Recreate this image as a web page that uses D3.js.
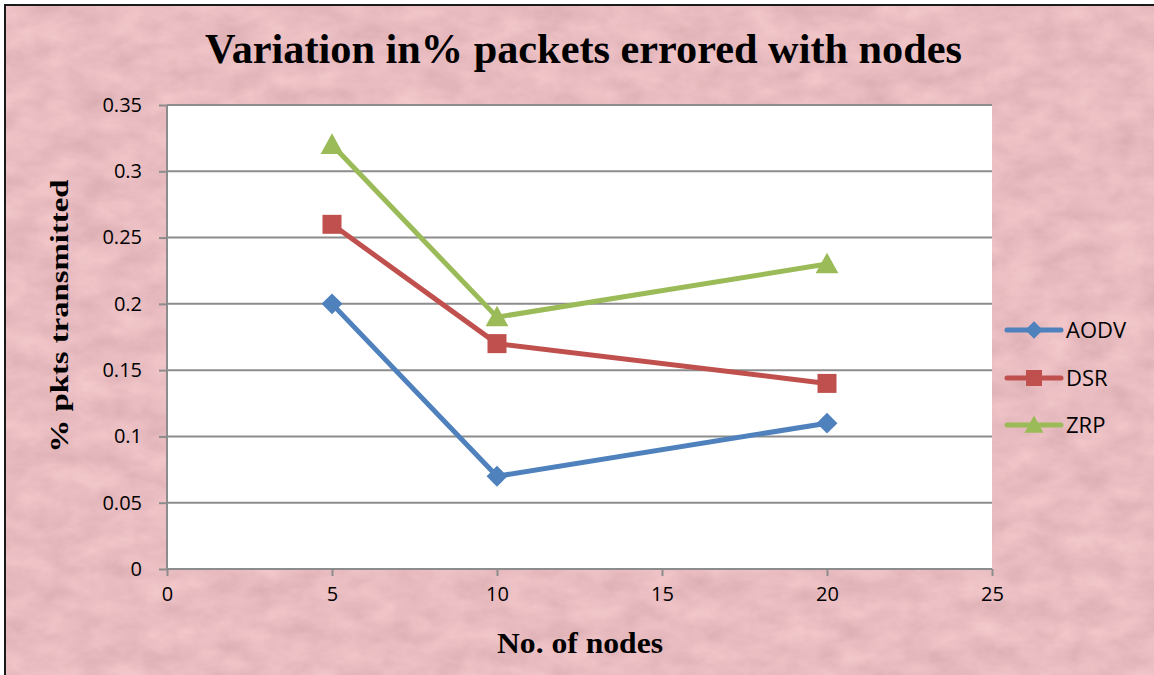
<!DOCTYPE html>
<html>
<head>
<meta charset="utf-8">
<script src="https://cdn.jsdelivr.net/npm/d3@7"></script>
<style>
  html, body { margin: 0; padding: 0; background: #ffffff; }
  svg { display: block; }
</style>
</head>
<body>
<svg id="chart" width="1154" height="675"></svg>
<script>
// Node counts on the x axis
const nodes = [5, 10, 20];
// Percentage of packets errored per protocol
const aodv = [0.2, 0.07, 0.11];
const dsr = [0.26, 0.17, 0.14];
const zrp = [0.32, 0.19, 0.23];
const seriesNames = ["AODV", "DSR", "ZRP"];
const xTicks = [0, 5, 10, 15, 20, 25];
const yTicks = [0, 0.05, 0.1, 0.15, 0.2, 0.25, 0.3, 0.35];

const series = [
  { name: seriesNames[0], values: aodv, color: "#4f81bd", shape: "diamond" },
  { name: seriesNames[1], values: dsr, color: "#c0504d", shape: "square" },
  { name: seriesNames[2], values: zrp, color: "#9bbb59", shape: "triangle" }
];

const W = 1154, H = 675;
const svg = d3.select("#chart");
const defs = svg.append("defs");

// Mottled pink paper texture for the chart background
const f = defs.append("filter").attr("id", "paper")
  .attr("color-interpolation-filters", "sRGB")
  .attr("x", 0).attr("y", 0).attr("width", "100%").attr("height", "100%");
f.append("feTurbulence").attr("type", "fractalNoise")
  .attr("baseFrequency", "0.028 0.045").attr("numOctaves", 4).attr("seed", 11).attr("result", "noise");
f.append("feColorMatrix").attr("in", "noise").attr("type", "matrix")
  .attr("values", "0.12 0 0 0 0.85  0.13 0 0 0 0.672  0.12 0 0 0 0.692  0 0 0 0 1")
  .attr("result", "tint");
f.append("feComposite").attr("in", "tint").attr("in2", "SourceGraphic").attr("operator", "in");

svg.append("rect").attr("x", 0).attr("y", 0).attr("width", W).attr("height", H).attr("fill", "#ffffff");
svg.append("rect").attr("x", 5).attr("y", 5).attr("width", W - 5).attr("height", H - 5)
  .attr("fill", "#e7bbbf").attr("filter", "url(#paper)");
// outer frame (left and top edges)
svg.append("path").attr("d", `M5,${H} L5,5 L${W},5`).attr("fill", "none")
  .attr("stroke", "#1a1a1a").attr("stroke-width", 2);

const plot = { left: 167, right: 992, top: 105, bottom: 569 };
const x = d3.scaleLinear().domain([0, 25]).range([plot.left, plot.right]);
const y = d3.scaleLinear().domain([0, 0.35]).range([plot.bottom, plot.top]);

svg.append("rect").attr("x", plot.left).attr("y", plot.top)
  .attr("width", plot.right - plot.left).attr("height", plot.bottom - plot.top).attr("fill", "#ffffff");

// Horizontal gridlines
svg.append("g").selectAll("line").data(yTicks.filter(d => d > 0)).join("line")
  .attr("x1", plot.left).attr("x2", plot.right)
  .attr("y1", d => y(d)).attr("y2", d => y(d))
  .attr("stroke", "#8c8c8c").attr("stroke-width", 2);

const tickFont = "'Open Sans', Lato, sans-serif";

// Y axis
const yAxis = svg.append("g").attr("transform", `translate(${plot.left},0)`)
  .call(d3.axisLeft(y).tickValues(yTicks).tickSize(8).tickPadding(17).tickFormat(d3.format("~g")));
yAxis.select(".domain").attr("stroke", "#8c8c8c").attr("stroke-width", 2).attr("d", `M0,${plot.top}V${plot.bottom}`);
yAxis.selectAll(".tick line").attr("stroke", "#8c8c8c").attr("stroke-width", 2);
yAxis.selectAll(".tick text").attr("font-family", tickFont).attr("font-size", 20).attr("fill", "#000");

// X axis
const xAxis = svg.append("g").attr("transform", `translate(0,${plot.bottom})`)
  .call(d3.axisBottom(x).tickValues(xTicks).tickSize(7).tickPadding(11).tickFormat(d3.format("d")));
xAxis.select(".domain").attr("stroke", "#8c8c8c").attr("stroke-width", 2).attr("d", `M${plot.left},0H${plot.right}`);
xAxis.selectAll(".tick line").attr("stroke", "#8c8c8c").attr("stroke-width", 2);
xAxis.selectAll(".tick text").attr("font-family", tickFont).attr("font-size", 20).attr("fill", "#000");

// Marker shapes
function marker(sel, shape, color, size) {
  if (shape === "diamond") {
    const s = size * 0.55;
    sel.append("path").attr("d", `M0,${-s}L${s},0L0,${s}L${-s},0Z`).attr("fill", color);
  } else if (shape === "square") {
    const s = size * 0.5;
    sel.append("rect").attr("x", -s).attr("y", -s).attr("width", 2 * s).attr("height", 2 * s).attr("fill", color);
  } else {
    const s = size * 0.6;
    sel.append("path").attr("d", `M0,${-s}L${s},${s * 0.8}L${-s},${s * 0.8}Z`).attr("fill", color);
  }
}

const line = d3.line().x(d => x(d[0])).y(d => y(d[1]));

series.forEach(s => {
  const pts = nodes.map((n, i) => [n, s.values[i]]);
  svg.append("path").datum(pts).attr("d", line)
    .attr("fill", "none").attr("stroke", s.color).attr("stroke-width", 5).attr("stroke-linejoin", "round");
  pts.forEach(p => {
    const g = svg.append("g").attr("transform", `translate(${x(p[0])},${y(p[1])})`);
    marker(g, s.shape, s.color, 19);
  });
});

// Legend
const legendY = [330, 378, 425];
series.forEach((s, i) => {
  const g = svg.append("g").attr("transform", `translate(1007,${legendY[i]})`);
  g.append("line").attr("x1", 0).attr("x2", 54).attr("y1", 0).attr("y2", 0)
    .attr("stroke", s.color).attr("stroke-width", 5).attr("stroke-linecap", "round");
  const m = g.append("g").attr("transform", "translate(27,0)");
  marker(m, s.shape, s.color, 16);
  g.append("text").attr("x", 59).attr("y", 0).attr("dy", "0.36em")
    .attr("font-family", tickFont).attr("font-size", 22).attr("fill", "#000").text(s.name);
});

const serif = "'Liberation Serif', 'Times New Roman', serif";

// Title
svg.append("text").attr("x", 583.5).attr("y", 63).attr("text-anchor", "middle")
  .attr("font-family", serif).attr("font-weight", "bold").attr("font-size", 42).attr("fill", "#000")
  .attr("textLength", 757).attr("lengthAdjust", "spacingAndGlyphs")
  .text("Variation in% packets errored with nodes");

// Axis titles
svg.append("text").attr("x", 580).attr("y", 653).attr("text-anchor", "middle")
  .attr("font-family", serif).attr("font-weight", "bold").attr("font-size", 30).attr("fill", "#000")
  .attr("textLength", 166).attr("lengthAdjust", "spacingAndGlyphs")
  .text("No. of nodes");
svg.append("text").attr("transform", "translate(68,316) rotate(-90)").attr("text-anchor", "middle")
  .attr("font-family", serif).attr("font-weight", "bold").attr("font-size", 26).attr("fill", "#000")
  .attr("textLength", 273).attr("lengthAdjust", "spacingAndGlyphs")
  .text("% pkts transmitted");
</script>
</body>
</html>
